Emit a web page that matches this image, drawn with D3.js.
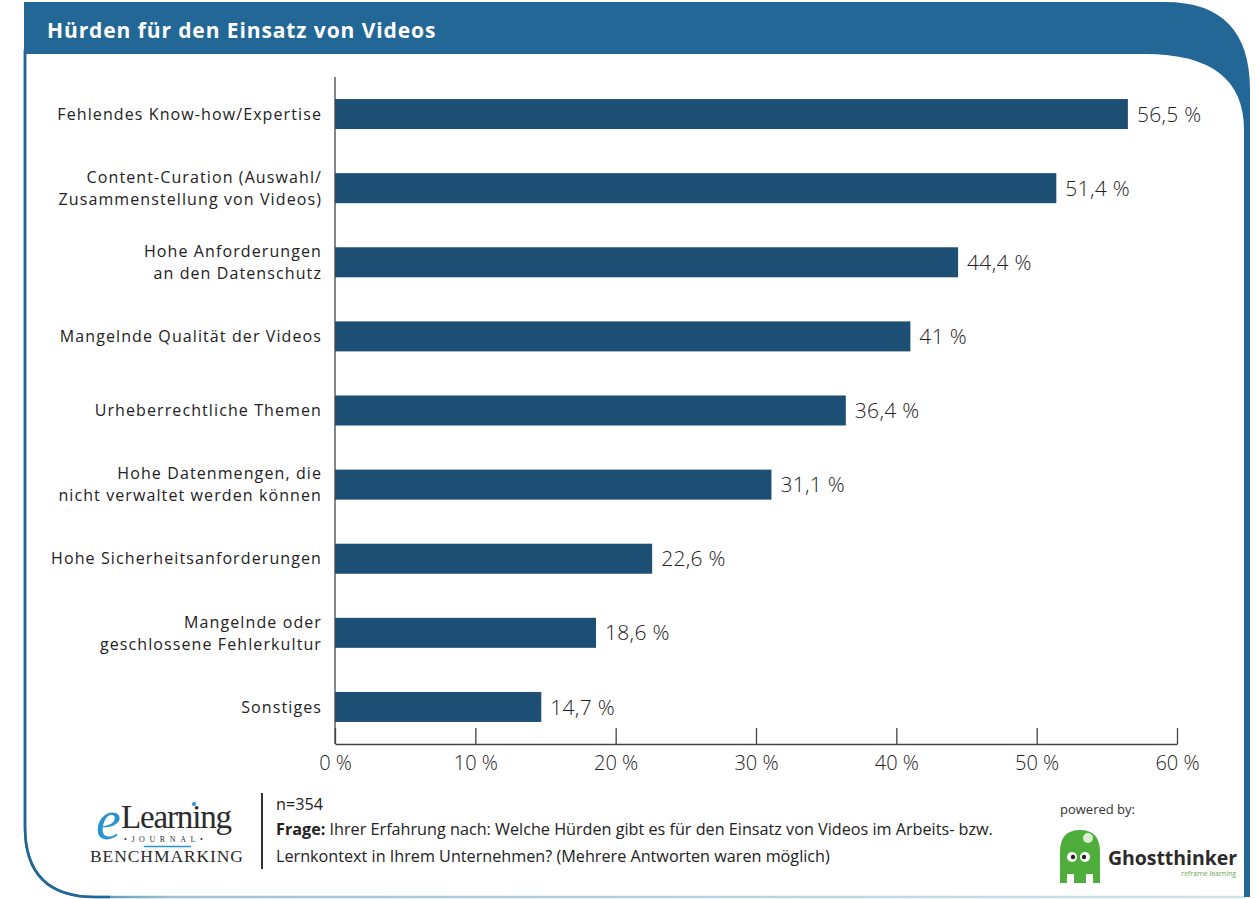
<!DOCTYPE html>
<html>
<head>
<meta charset="utf-8">
<script src="https://cdn.jsdelivr.net/npm/d3@7"></script>
<style>
  html, body { margin: 0; padding: 0; background: #fff; }
  svg { display: block; }
</style>
</head>
<body>
<svg id="chart" width="1255" height="899"></svg>
<script>
// Survey answers: obstacles to using video in learning contexts
const categories = [
  ["Fehlendes Know-how/Expertise"],
  ["Content-Curation (Auswahl/", "Zusammenstellung von Videos)"],
  ["Hohe Anforderungen", "an den Datenschutz"],
  ["Mangelnde Qualität der Videos"],
  ["Urheberrechtliche Themen"],
  ["Hohe Datenmengen, die", "nicht verwaltet werden können"],
  ["Hohe Sicherheitsanforderungen"],
  ["Mangelnde oder", "geschlossene Fehlerkultur"],
  ["Sonstiges"]
];
const values = [56.5, 51.4, 44.4, 41, 36.4, 31.1, 22.6, 18.6, 14.7];
const tickValues = [0, 10, 20, 30, 40, 50, 60];
const titleText = "Hürden für den Einsatz von Videos";
const sampleText = "n=354";
const questionLabel = "Frage:";
const questionLines = [
  " Ihrer Erfahrung nach: Welche Hürden gibt es für den Einsatz von Videos im Arbeits- bzw.",
  "Lernkontext in Ihrem Unternehmen? (Mehrere Antworten waren möglich)"
];

const svg = d3.select("#chart");
const blue = "#236796";
const barColor = "#1d4e74";
const font = "'Open Sans', sans-serif";

// ---------- frame ----------
const defs = svg.append("defs");
const grad = defs.append("linearGradient").attr("id", "bottomFade")
  .attr("x1", "0").attr("x2", "1").attr("y1", "0").attr("y2", "0");
grad.append("stop").attr("offset", "0").attr("stop-color", blue);
grad.append("stop").attr("offset", "0.12").attr("stop-color", "#9cc3d8");
grad.append("stop").attr("offset", "1").attr("stop-color", "#cfe3ec");

// left side + rounded bottom-left corner + bottom line
svg.append("path")
  .attr("d", "M25,50 L25,827 Q25,897 95,897 L1246,897")
  .attr("fill", "none").attr("stroke", "url(#bottomFade)").attr("stroke-width", 2.5);
svg.append("path")
  .attr("d", "M25,50 L25,827 Q25,897 95,897 L110,897")
  .attr("fill", "none").attr("stroke", blue).attr("stroke-width", 2.5);

// header band with large rounded top-right corner flowing into the right border
svg.append("path")
  .attr("d", "M24,2 L1165,2 Q1250,2 1250,90 L1250,897 L1244,897 L1244,130 Q1244,54 1145,54 L24,54 Z")
  .attr("fill", blue);

svg.append("text")
  .attr("x", 47).attr("y", 38)
  .attr("fill", "#fff")
  .attr("font-family", "'Open Sans', 'DejaVu Sans', sans-serif")
  .attr("font-weight", "bold").attr("font-size", 21)
  .attr("letter-spacing", 0.9)
  .text(titleText);

// ---------- chart ----------
const x = d3.scaleLinear().domain([0, 60]).range([335, 1177]);
const pad = 0.595;
const y = d3.scaleBand()
  .domain(d3.range(categories.length))
  .range([77, 744])
  .paddingInner(pad).paddingOuter(pad / 2);

const fmt = v => String(v).replace(".", ",") + " %";

const g = svg.append("g");

// bars
g.selectAll("rect.bar").data(values).join("rect")
  .attr("class", "bar")
  .attr("x", x(0))
  .attr("y", (d, i) => y(i))
  .attr("width", d => x(d) - x(0))
  .attr("height", y.bandwidth())
  .attr("fill", barColor);

// value labels
g.selectAll("text.val").data(values).join("text")
  .attr("class", "val")
  .attr("x", d => x(d) + 9)
  .attr("y", (d, i) => y(i) + y.bandwidth() / 2)
  .attr("dy", "0.36em")
  .attr("font-family", "'Open Sans', sans-serif")
  .attr("font-weight", 300)
  .attr("font-size", 21)
  .attr("letter-spacing", 0.3)
  .attr("fill", "#222")
  .text(fmt);

// category labels
const cat = g.selectAll("text.cat").data(categories).join("text")
  .attr("class", "cat")
  .attr("text-anchor", "end")
  .attr("font-family", "'Open Sans', sans-serif")
  .attr("font-size", 16)
  .attr("letter-spacing", 1.1)
  .attr("fill", "#222");
cat.each(function (lines, i) {
  const cy = y(i) + y.bandwidth() / 2;
  const t = d3.select(this);
  lines.forEach((ln, k) => {
    t.append("tspan")
      .attr("x", 322)
      .attr("y", cy + (k - (lines.length - 1) / 2) * 22)
      .attr("dy", "0.36em")
      .text(ln);
  });
});

// vertical axis line
g.append("line")
  .attr("x1", x(0)).attr("x2", x(0))
  .attr("y1", 77).attr("y2", 744)
  .attr("stroke", "#444").attr("stroke-width", 1.3);

// x axis: baseline with upward ticks
const xAxis = d3.axisBottom(x).tickValues(tickValues).tickSizeInner(-16).tickSizeOuter(0)
  .tickFormat(d => d + " %").tickPadding(12);
const ax = g.append("g").attr("transform", "translate(0,744)").call(xAxis);
ax.select(".domain").attr("stroke", "#444").attr("stroke-width", 1.3);
ax.selectAll(".tick line").attr("stroke", "#444").attr("stroke-width", 1.3);
ax.selectAll(".tick text")
  .attr("font-family", "'Open Sans', sans-serif")
  .attr("font-weight", 300)
  .attr("font-size", 20)
  .attr("fill", "#222");

// ---------- footer ----------
// eLearning Journal Benchmarking logo
const logo = svg.append("g");
logo.append("text").attr("x", 96).attr("y", 839)
  .attr("font-family", "'Liberation Serif', serif").attr("font-size", 56)
  .attr("font-style", "italic")
  .attr("fill", "#2a93d0").text("e");
logo.append("text").attr("x", 121).attr("y", 828)
  .attr("font-family", "'Liberation Serif', serif").attr("font-size", 33)
  .attr("fill", "#2b2b2b").attr("textLength", 111).text("Learning");
logo.append("circle").attr("cx", 194).attr("cy", 804).attr("r", 2).attr("fill", "#2a93d0");
logo.append("text").attr("x", 124).attr("y", 842)
  .attr("font-family", "'Liberation Serif', serif").attr("font-size", 8)
  .attr("letter-spacing", 4.6).attr("fill", "#333").text("•JOURNAL•");
logo.append("line").attr("x1", 144).attr("x2", 191).attr("y1", 846.5).attr("y2", 846.5)
  .attr("stroke", "#2a93d0").attr("stroke-width", 1.3);
logo.append("text").attr("x", 90).attr("y", 862)
  .attr("font-family", "'Liberation Serif', serif").attr("font-size", 17.5)
  .attr("fill", "#2b2b2b").attr("textLength", 153).text("BENCHMARKING");

// separator
svg.append("line").attr("x1", 262).attr("x2", 262).attr("y1", 793).attr("y2", 869)
  .attr("stroke", "#333").attr("stroke-width", 2);

const foot = svg.append("g")
  .attr("font-family", font).attr("font-size", 16.2).attr("fill", "#222");
foot.append("text").attr("x", 276).attr("y", 810).text(sampleText);
const q = foot.append("text").attr("x", 276).attr("y", 835);
q.append("tspan").attr("font-weight", "bold").text(questionLabel);
q.append("tspan").text(questionLines[0]);
foot.append("text").attr("x", 276).attr("y", 862).text(questionLines[1]);

// "powered by" + Ghostthinker logo
svg.append("text").attr("x", 1060).attr("y", 814)
  .attr("font-family", font).attr("font-size", 13).attr("fill", "#333")
  .text("powered by:");
const gh = svg.append("g");
gh.append("path")
  .attr("d", "M1060,883 L1060,852 Q1060,830 1080,830 Q1100,830 1100,852 L1100,883 L1093,883 L1093,874 L1086,874 L1086,883 L1074,883 L1074,874 L1067,874 L1067,883 Z")
  .attr("fill", "#4fae3b");
gh.append("circle").attr("cx", 1088).attr("cy", 838).attr("r", 5).attr("fill", "#d8efd0");
gh.append("circle").attr("cx", 1072).attr("cy", 857).attr("r", 5).attr("fill", "#fff");
gh.append("circle").attr("cx", 1085).attr("cy", 857).attr("r", 5).attr("fill", "#fff");
gh.append("circle").attr("cx", 1073).attr("cy", 857).attr("r", 2.2).attr("fill", "#222");
gh.append("circle").attr("cx", 1084).attr("cy", 857).attr("r", 2.2).attr("fill", "#222");
gh.append("text").attr("x", 1108).attr("y", 865)
  .attr("font-family", "'Open Sans', sans-serif").attr("font-weight", "bold")
  .attr("font-size", 19.5).attr("fill", "#2a2a2a").attr("textLength", 129).text("Ghostthinker");
gh.append("text").attr("x", 1236).attr("y", 876).attr("text-anchor", "end")
  .attr("font-family", "'Open Sans', sans-serif").attr("font-size", 7)
  .attr("fill", "#6aa84f").text("reframe learning");
</script>
</body>
</html>
